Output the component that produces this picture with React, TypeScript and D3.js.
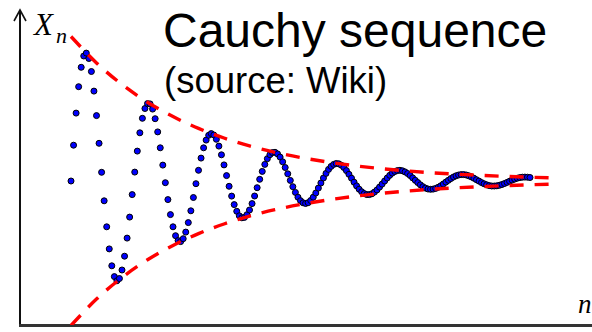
import * as d3 from 'd3';

// sequence values x_n (displacement from the limit), one per index n
const seqValues = [
  0, 35.8, 67.9, 94.3, 113.7, 125.0, 127.9, 122.5, 109.5, 89.9,
  65.4, 37.7, 8.7, -19.8, -45.8, -67.9, -84.8, -95.6, -99.8, -97.5,
  -89.0, -75.2, -57.1, -36.1, -13.6, 8.9, 29.9, 48.2, 62.7, 72.5,
  77.4, 77.1, 71.9, 62.3, 49.1, 33.2, 15.9, -1.7, -18.6, -33.6,
  -45.8, -54.7, -59.6, -60.6, -57.7, -51.1, -41.6, -29.8, -16.5, -2.7,
  10.7, 22.9, 33.2, 40.9, 45.7, 47.4, 46.0, 41.7, 34.9, 26.2,
  16.1, 5.4, -5.3, -15.1, -23.6, -30.3, -34.8, -36.8, -36.4, -33.7,
  -29.0, -22.6, -15.0, -6.7, 1.7, 9.6, 16.6, 22.3, 26.3, 28.4,
  28.7, 27.1, 23.9, 19.2, 13.5, 7.2, 0.6, -5.7, -11.4, -16.2,
  -19.7, -21.8, -22.5, -21.7, -19.5, -16.2, -12.0, -7.1, -2.0, 3.0,
  7.6, 11.6, 14.6, 16.6, 17.5, 17.2, 15.8, 13.5, 10.4, 6.7,
  2.8, -1.2, -4.9, -8.2, -10.8, -12.6, -13.6, -13.6, -12.8, -11.1,
  -8.9, -6.1, -3.1, 0, 3.0, 5.7, 7.9, 9.5, 10.4, 10.7,
  10.2, 9.1, 7.5, 5.5, 3.1, 0.7, -1.6, -3.8, -5.7, -7.1,
  -8.0, -8.3, -8.1, -7.4, -6.3, -4.8, -3.0, -1.1, 0.7, 2.5,
  4.0, 5.2, 6.0, 6.4, 6.4, 6.0, 5.2, 4.1, 2.8, 1.3,
  -0.1, -1.6, -2.8, -3.8, -4.6, -5.0, -5.0, -4.8, -4.3, -3.5,
  -2.5, -1.4, -0.2, 0.9, 1.9, 2.8, 3.4, 3.8, 3.9, 3.8,
  3.5,
];

// envelope (red dashed), amplitude at index n, drawn as +/- around the limit
const envN = [0, 10, 20, 30, 40, 50, 60, 70, 80, 90, 100, 110, 120, 130, 140, 150, 160, 170, 180, 188];
const envAmp = [144.5, 118.1, 96.5, 78.8, 64.4, 52.6, 43.0, 35.1, 28.7, 23.5, 19.2, 15.7, 12.8, 10.5, 8.5, 7.0, 5.7, 4.7, 3.8, 3.2];

const title = 'Cauchy sequence';
const subtitle = '(source: Wiki)';

export default function App() {
  const width = 592;
  const height = 332;

  const x = d3.scaleLinear().domain([0, 180]).range([71, 530]);
  const y = d3.scaleLinear().domain([-144, 176]).range([325, 5]);

  const upper = d3.line<number>()
    .x((d, i) => x(envN[i]))
    .y(d => y(d))
    .curve(d3.curveMonotoneX)(envAmp);
  const lower = d3.line<number>()
    .x((d, i) => x(envN[i]))
    .y(d => y(-d))
    .curve(d3.curveMonotoneX)(envAmp);

  return (
    <svg width={width} height={height} style={{ position: 'absolute', left: 0, top: 0, background: '#fff' }}>
      <defs>
        <clipPath id="plotArea">
          <rect x={20} y={0} width={width - 20} height={325} />
        </clipPath>
      </defs>

      {/* axes */}
      <line x1={20} y1={325} x2={20} y2={10} stroke="#111" strokeWidth={2} />
      <polyline points="14,21 20,10 26,21" fill="none" stroke="#111" strokeWidth={1.6} />
      <line x1={19} y1={325.5} x2={width} y2={325.5} stroke="#333" strokeWidth={3} />

      <text x={34} y={35} fontFamily="Liberation Serif" fontStyle="italic" fontSize={31}>X</text>
      <text x={56} y={43} fontFamily="Liberation Serif" fontStyle="italic" fontSize={22}>n</text>
      <text x={578} y={313} fontFamily="Liberation Serif" fontStyle="italic" fontSize={27}>n</text>

      {/* sequence points */}
      <g>
        {seqValues.map((v, i) => (
          <circle key={i} cx={x(i)} cy={y(v)} r={3} fill="#0000ff" stroke="#000" strokeWidth={1} />
        ))}
      </g>

      {/* envelopes */}
      <g clipPath="url(#plotArea)" fill="none" stroke="#ff0000" strokeWidth={3.4} strokeDasharray="14,11">
        <path d={upper ?? ''} />
        <path d={lower ?? ''} />
      </g>

      <text x={163} y={47} fontFamily="Liberation Sans" fontSize={48} fill="#000">{title}</text>
      <text x={164} y={93} fontFamily="Liberation Sans" fontSize={36.5} fill="#000">{subtitle}</text>
    </svg>
  );
}
